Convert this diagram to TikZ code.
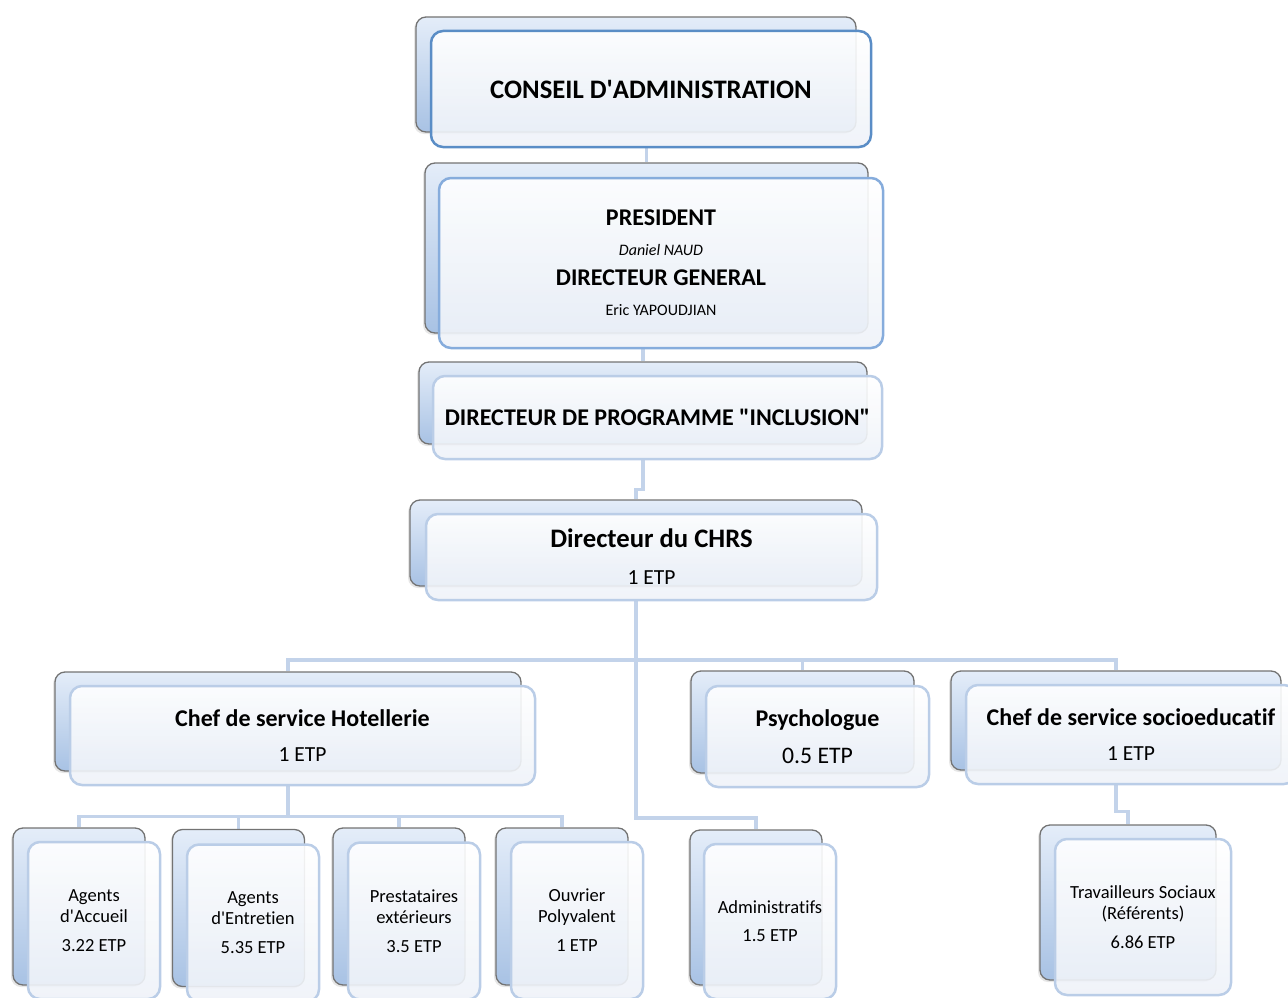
\documentclass[tikz,border=0pt]{standalone}
\usepackage{fontspec}
\setmainfont{Carlito}[Ligatures={TeX,NoCommon}]
\usetikzlibrary{backgrounds, shadows}

\definecolor{linkblue}{HTML}{C3D3EA}
\definecolor{edgeblue}{HTML}{BACDE7}
\definecolor{darkedge}{HTML}{5A8DC6}
\definecolor{midedge}{HTML}{86ACDC}
\definecolor{backtop}{HTML}{E4EDF9}
\definecolor{backbot}{HTML}{A8C2E4}
\definecolor{frontbot}{HTML}{EEF2F8}

\newcommand{\hugebf}{\fontsize{26.7}{26.7}\selectfont\bfseries}
\newcommand{\bigbf}{\fontsize{24}{24}\selectfont\bfseries}
\newcommand{\midbf}{\fontsize{24}{24}\selectfont\bfseries}

\tikzset{
  backbox/.style={draw=black!55, line width=1.3pt, rounded corners=10pt,
    top color=backtop, bottom color=backbot, inner sep=0pt,
    drop shadow={opacity=0.2, shadow xshift=-2pt, shadow yshift=-2pt}},
  frontbox/.style={draw=edgeblue, line width=2.5pt, rounded corners=12pt,
    top color=white, bottom color=frontbot, fill opacity=0.9, text opacity=1,
    align=center, inner sep=0pt},
  smallbox/.style={frontbox, minimum width=132, minimum height=157,
    font=\fontsize{18.5}{21}\selectfont},
  smallback/.style={backbox, minimum width=132, minimum height=157},
  link/.style={draw=linkblue, line width=3.5pt}
}

\begin{document}
\begin{tikzpicture}[x=1pt, y=-1pt]
\useasboundingbox (0,0) rectangle (1288,998);

% top of the chart
\node[backbox, minimum width=440, minimum height=115] (conseil-b) at (636,74.5) {};
\node[frontbox, draw=darkedge, minimum width=440, minimum height=116] (conseil) at (651,89)
  {\hugebf CONSEIL D\textquotesingle ADMINISTRATION};

\node[backbox, minimum width=443, minimum height=170] (president-b) at (646.5,248) {};
\node[frontbox, draw=midedge, minimum width=444, minimum height=170,
  font=\fontsize{16}{30}\selectfont] (president) at (661,263)
  {{\bigbf PRESIDENT}\\ {\itshape Daniel NAUD}\\ {\bigbf DIRECTEUR GENERAL}\\ Eric YAPOUDJIAN};

\node[backbox, minimum width=448, minimum height=82] (prog-b) at (643,403) {};
\node[frontbox, minimum width=449, minimum height=83] (prog) at (657.5,417.5)
  {\bigbf DIRECTEUR DE PROGRAMME \textquotedbl INCLUSION\textquotedbl};

\node[backbox, minimum width=452, minimum height=86] (chrs-b) at (636,543) {};
\node[frontbox, minimum width=451, minimum height=86, font=\fontsize{21.5}{37}\selectfont]
  (chrs) at (651.5,557) {{\hugebf Directeur du CHRS}\\ 1 ETP};

% second level
\node[backbox, minimum width=466, minimum height=99] (hotel-b) at (288,721.5) {};
\node[frontbox, minimum width=465, minimum height=99, font=\fontsize{21.5}{35}\selectfont]
  (hotel) at (302.5,735.5) {{\midbf Chef de service Hotellerie}\\ 1 ETP};

\node[backbox, minimum width=223, minimum height=102] (psy-b) at (802.5,722) {};
\node[frontbox, minimum width=223, minimum height=101, font=\fontsize{23.7}{37}\selectfont]
  (psy) at (817.5,736.5) {{\midbf Psychologue}\\ 0.5 ETP};

\node[backbox, minimum width=330, minimum height=99] (socio-b) at (1116,720.5) {};
\node[frontbox, minimum width=330, minimum height=99, font=\fontsize{21.5}{35}\selectfont]
  (socio) at (1131,734.5) {{\midbf Chef de service socioeducatif}\\ 1 ETP};

% bottom row
\node[smallback] (accueil-b) at (79,906.5) {};
\node[smallbox] (accueil) at (94,920.5) {Agents\\ d\textquotesingle Accueil\\[8pt] 3.22 ETP};
\node[smallback] (entretien-b) at (238.5,908) {};
\node[smallbox] (entretien) at (253,923) {Agents\\ d\textquotesingle Entretien\\[8pt] 5.35 ETP};
\node[smallback] (prest-b) at (399,906.5) {};
\node[smallbox] (prest) at (414,921) {Prestataires\\ extérieurs\\[8pt] 3.5 ETP};
\node[smallback] (ouvrier-b) at (562,906.5) {};
\node[smallbox] (ouvrier) at (577,920.5) {Ouvrier\\ Polyvalent\\[8pt] 1 ETP};
\node[smallback, minimum height=155] (admin-b) at (756,907.5) {};
\node[smallbox, minimum height=155, font=\fontsize{18.5}{28}\selectfont] (admin) at (770,921.5)
  {Administratifs\\ 1.5 ETP};
\node[smallback, minimum width=176, minimum height=155] (travail-b) at (1128,902.5) {};
\node[smallbox, minimum width=176, minimum height=156] (travail) at (1143,917)
  {Travailleurs Sociaux\\ (Référents)\\[8pt] 6.86 ETP};

% connectors behind the boxes
\coordinate (bus) at (636,660);
\coordinate (adminbus) at (636,818);
\begin{scope}[on background layer]
\draw[link] (president-b.north |- conseil.south) -- (president-b.north);
\draw[link] (prog-b.north |- president.south) -- (prog-b.north);
\draw[link] (prog-b.north |- prog.south) -- ++(0,29) -| (chrs-b.north);
\draw[link] (chrs-b.north |- chrs.south) -- (bus) -- (adminbus) -| (admin-b.north);
\draw[link] (hotel-b.north) |- (bus) -| (socio-b.north);
\draw[link] (psy-b.north) -- (psy-b.north |- bus);
\draw[link] (hotel-b.north |- hotel.south) -- ++(0,30) coordinate (hbus);
\draw[link] (accueil-b.north) |- (hbus) -| (ouvrier-b.north);
\draw[link] (entretien-b.north) -- (entretien-b.north |- hbus);
\draw[link] (prest-b.north) -- (prest-b.north |- hbus);
\draw[link] (socio-b.north |- socio.south) -- ++(0,26) -| (travail-b.north);
\end{scope}
\end{tikzpicture}
\end{document}
